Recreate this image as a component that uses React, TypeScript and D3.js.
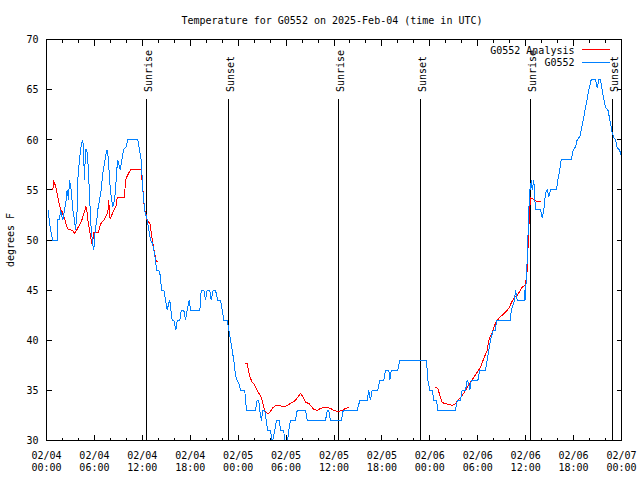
import React from "react";
import * as d3 from "d3";

// hours since 2025-02-04 00:00 UTC, temperature (F)
const observed: [number, number][] = [
  [0.2, 53], [0.5, 51], [0.79, 50], [1.34, 50], [1.41, 52], [1.63, 52], [1.75, 53], [2.04, 52],
  [2.25, 53], [2.47, 54], [2.59, 55], [2.75, 54], [2.88, 56], [3.09, 55], [3.29, 53], [3.51, 52],
  [3.63, 51], [3.84, 53], [3.92, 56], [4.13, 58], [4.35, 59.5], [4.55, 60], [4.67, 58], [4.76, 56],
  [4.88, 59], [5.05, 59], [5.17, 58], [5.3, 56], [5.47, 53], [5.6, 51], [5.8, 49.5], [5.92, 49],
  [6.1, 51], [6.3, 52], [6.42, 53], [6.64, 54], [6.85, 55], [7.05, 56.7], [7.26, 57.7], [7.48, 58.7],
  [7.6, 59], [7.76, 58], [7.89, 56], [8.1, 54.3], [8.3, 53.3], [8.51, 54], [8.64, 55], [8.8, 57],
  [8.93, 58], [9.23, 57], [9.43, 58], [9.64, 59], [9.98, 59.3], [10.18, 60], [11.43, 60], [11.65, 59],
  [11.86, 58], [12.06, 55], [12.18, 54], [12.27, 53], [12.61, 52], [12.81, 51], [13.02, 50], [13.24, 49.7],
  [13.44, 49], [13.65, 48], [13.77, 47], [14.06, 47], [14.27, 46.4], [14.4, 45], [14.69, 45], [14.9, 44],
  [15.11, 43], [15.31, 43.7], [15.44, 44], [15.61, 42.8], [15.74, 42], [15.94, 42], [16.19, 41], [16.37, 42],
  [16.69, 42], [16.87, 43], [17.19, 43], [17.41, 42], [17.62, 43], [17.87, 44], [18.03, 43], [18.24, 43],
  [19.2, 43], [19.37, 45], [19.7, 45], [19.91, 44], [20.12, 45], [20.45, 45], [20.62, 44], [20.87, 45],
  [21.16, 45], [21.45, 44], [21.79, 44], [22.0, 43], [22.2, 42], [22.63, 42], [22.83, 41], [23.04, 40],
  [23.25, 39], [23.45, 38], [23.67, 36.5], [23.88, 36], [24.08, 35.7], [24.29, 35], [24.83, 35], [24.92, 34],
  [25.05, 33], [26.17, 33], [26.38, 34], [26.58, 34], [26.71, 33], [26.92, 32], [27.08, 33], [27.34, 33],
  [27.51, 32], [27.71, 31], [28.05, 31], [28.26, 29.8], [28.46, 30.5], [28.59, 31], [28.8, 32], [29.17, 32],
  [29.3, 31], [29.71, 31], [29.84, 29.7], [30.14, 29.7], [30.34, 31], [30.55, 32], [31.18, 32], [31.39, 33],
  [32.43, 33], [32.65, 32], [34.94, 32], [35.15, 33], [35.35, 33], [35.56, 32], [36.94, 32], [37.15, 33],
  [38.91, 33], [39.23, 34], [40.16, 34], [40.36, 35], [40.57, 34], [40.78, 35], [41.48, 35], [41.73, 36],
  [42.24, 36], [42.45, 37], [42.87, 37], [42.99, 36], [43.16, 37], [43.99, 37], [44.24, 38], [47.58, 38],
  [47.75, 36], [48.0, 35], [48.3, 35], [48.5, 34], [48.84, 34], [49.0, 33], [51.21, 33], [51.43, 34],
  [51.84, 34], [52.05, 35], [52.47, 35], [52.68, 36], [52.88, 35.7], [53.0, 35], [53.18, 36], [54.01, 36],
  [54.26, 37], [54.97, 37], [55.18, 38], [55.38, 39], [55.6, 40], [55.93, 41], [56.22, 41], [56.35, 42],
  [58.1, 42], [58.19, 43], [58.6, 44], [58.73, 45], [58.94, 44], [59.85, 44], [59.92, 45], [59.98, 44],
  [60.07, 46.3], [60.2, 48], [60.35, 52], [60.5, 55], [60.61, 55], [60.7, 56], [60.82, 55], [61.02, 56],
  [61.15, 54], [61.23, 53], [61.86, 53], [62.07, 52.2], [62.27, 53], [62.48, 54.7], [62.7, 55], [62.9, 54.3],
  [63.11, 55], [63.86, 55], [64.02, 56], [64.27, 57], [64.45, 58], [65.7, 58], [65.95, 59], [66.24, 59.3],
  [66.45, 60], [66.78, 60.3], [66.95, 61], [67.28, 62.3], [67.62, 63.7], [67.91, 65], [68.21, 66], [68.75, 66],
  [68.96, 65.2], [69.16, 66], [69.37, 66], [69.58, 65], [69.79, 64], [70.0, 63.2], [70.29, 63], [70.54, 62],
  [70.84, 60.7], [71.04, 60.2], [71.25, 60], [71.46, 59.2], [71.75, 59], [72.0, 58.3],
];

const analysisDay1: [number, number][] = [
  [0.79, 55], [0.91, 55.8], [1.09, 55.5], [1.25, 55], [1.41, 54.3], [1.63, 53.5], [1.84, 52.7], [1.92, 53],
  [2.04, 52.5], [2.25, 52.2], [2.47, 51.5], [2.67, 51.1], [2.88, 51], [3.09, 51], [3.29, 50.9], [3.51, 50.7],
  [3.72, 50.9], [3.92, 51.2], [4.13, 51.5], [4.35, 51.8], [4.55, 52.3], [4.76, 52.8], [4.92, 53.3], [5.05, 53],
  [5.17, 52], [5.38, 51], [5.6, 50], [5.72, 49.5], [5.92, 50.7], [6.22, 50.7], [6.51, 50.7], [6.64, 51.3],
  [6.85, 51.7], [7.18, 52], [7.48, 52.4], [7.68, 52.8], [7.8, 54], [7.89, 52.3], [8.01, 52.2], [8.3, 52.7],
  [8.51, 53.1], [8.73, 53.4], [8.85, 54.2], [9.77, 54.2], [9.89, 56], [10.18, 56.5], [10.52, 57], [11.86, 57],
  [11.98, 55.8], [12.11, 54.7], [12.27, 53], [12.48, 52.5], [12.61, 51.9], [12.94, 51.7], [13.11, 50.8], [13.24, 50],
  [13.36, 49.5], [13.52, 48.8], [13.65, 48.2], [13.77, 47.9], [13.9, 47.9],
];

const analysisDay2: [number, number][] = [
  [24.83, 37.7], [25.13, 37.7], [25.33, 36.8], [25.54, 36.2], [25.76, 35.8], [25.96, 35.7], [26.17, 35.3], [26.38, 35],
  [26.58, 34.7], [26.8, 34.5], [27.01, 34], [27.21, 33.3], [27.42, 32.8], [27.71, 32.7], [27.96, 32.8], [28.26, 33.2],
  [28.68, 33.5], [29.09, 33.5], [29.51, 33.4], [29.93, 33.4], [30.34, 33.6], [30.77, 33.8], [31.18, 34], [31.52, 34.4],
  [31.81, 34.7], [32.09, 34.4], [32.43, 33.8], [32.85, 33.7], [33.18, 33.4], [33.47, 33.1], [33.9, 33], [34.31, 33.2],
  [34.72, 33.3], [35.15, 33.3], [35.56, 33.2], [35.98, 33], [36.4, 32.9], [36.6, 32.9], [37.03, 33], [37.44, 33.2],
  [37.85, 33.3],
];

const analysisDay3: [number, number][] = [
  [48.71, 35.3], [49.0, 35.2], [49.25, 34.5], [49.55, 33.8], [49.84, 33.7], [50.38, 33.6], [50.8, 33.5], [51.13, 33.6],
  [51.43, 33.9], [51.84, 34.3], [52.25, 34.7], [52.68, 35.3], [53.09, 35.8], [53.51, 36.3], [53.93, 36.8], [54.35, 37.3],
  [54.76, 38.2], [55.18, 39], [55.38, 40], [55.81, 40.8], [56.22, 41.7], [56.64, 42.2], [57.06, 42.5], [57.48, 42.8],
  [57.89, 43.2], [58.19, 43.7], [58.52, 44.2], [58.94, 44.5], [59.27, 44.9], [59.57, 45.3], [59.98, 45.5], [60.19, 47],
  [60.32, 49.8], [60.48, 52.7], [60.61, 54.2], [60.94, 54.1], [61.23, 53.9], [61.44, 53.8], [61.86, 53.8],
];

const sunEvents: [number, string][] = [
  [12.52, "Sunrise"], [22.79, "Sunset"], [36.56, "Sunrise"], [46.83, "Sunset"], [60.61, "Sunrise"], [70.87, "Sunset"],
];

const yTicks = [30, 35, 40, 45, 50, 55, 60, 65, 70];
const seriesNames = ["G0552 Analysis", "G0552"];
const seriesColors = ["#ff0000", "#0080ff"];
const titleText = "Temperature for G0552 on 2025-Feb-04 (time in UTC)";
const yLabel = "degrees F";

const BASE = Date.UTC(2025, 1, 4);
const toDate = (h: number) => new Date(BASE + h * 3600000);

const W = 640, H = 480;
const L = 46.5, R = 621.5, T = 39.5, B = 440.5;
const FONT = "'DejaVu Sans Mono', 'Liberation Mono', monospace";

export default function App() {
  const x = d3.scaleUtc().domain([toDate(0), toDate(72)]).range([L, R]);
  const y = d3.scaleLinear().domain([30, 70]).range([B, T]);
  const px = (v: number) => Math.floor(v) + 0.5;
  const line = d3
    .line<[number, number]>()
    .x((d) => x(toDate(d[0])))
    .y((d) => y(d[1]));

  const major = x.ticks(d3.utcHour.every(6)!);
  const minor = x.ticks(d3.utcHour.every(2)!).filter((d) => d.getUTCHours() % 6 !== 0);
  const fmtDate = d3.utcFormat("%m/%d");
  const fmtTime = d3.utcFormat("%H:%M");
  const analysis = [analysisDay1, analysisDay2, analysisDay3];

  return (
    <svg
      width={W}
      height={H}
      style={{ position: "absolute", left: 0, top: 0, background: "#fff" }}
      fontFamily={FONT}
      fontSize={10}
    >
      <rect x={0} y={0} width={W} height={H} fill="#fff" />
      <defs>
        <clipPath id="plot">
          <rect x={L} y={T} width={R - L} height={B - T} />
        </clipPath>
      </defs>

      {/* ticks */}
      <g stroke="#000" strokeWidth={1} shapeRendering="crispEdges">
        {major.map((d, i) => (
          <g key={"M" + i}>
            <line x1={px(x(d))} x2={px(x(d))} y1={B} y2={B - 6} />
            <line x1={px(x(d))} x2={px(x(d))} y1={T} y2={T + 6} />
          </g>
        ))}
        {minor.map((d, i) => (
          <g key={"m" + i}>
            <line x1={px(x(d))} x2={px(x(d))} y1={B} y2={B - 3} />
            <line x1={px(x(d))} x2={px(x(d))} y1={T} y2={T + 3} />
          </g>
        ))}
        {yTicks.map((v) => (
          <g key={"y" + v}>
            <line x1={L} x2={L + 5} y1={px(y(v))} y2={px(y(v))} />
            <line x1={R} x2={R - 5} y1={px(y(v))} y2={px(y(v))} />
          </g>
        ))}
      </g>

      {/* sunrise / sunset */}
      {sunEvents.map(([h, label], i) => {
        const xx = px(x(toDate(h)));
        return (
          <g key={"s" + i}>
            <line x1={xx} x2={xx} y1={99} y2={B} stroke="#000" shapeRendering="crispEdges" />
            <text transform={`translate(${xx + 5.5},92) rotate(-90)`} textAnchor="start" fill="#000">
              {label}
            </text>
          </g>
        );
      })}

      {/* data */}
      <g clipPath="url(#plot)" fill="none" strokeWidth={1} shapeRendering="crispEdges">
        {analysis.map((seg, i) => (
          <path key={"a" + i} d={line(seg) || ""} stroke={seriesColors[0]} />
        ))}
        <path d={line(observed) || ""} stroke={seriesColors[1]} />
      </g>

      {/* border */}
      <rect x={L} y={T} width={R - L} height={B - T} fill="none" stroke="#000" shapeRendering="crispEdges" />

      {/* y tick labels */}
      {yTicks.map((v) => (
        <text key={"yl" + v} x={38.5} y={y(v) + 3.8} textAnchor="end" fill="#000">
          {v}
        </text>
      ))}

      {/* x tick labels */}
      {major.map((d, i) => (
        <g key={"xl" + i}>
          <text x={x(d)} y={458.5} textAnchor="middle" fill="#000">
            {fmtDate(d)}
          </text>
          <text x={x(d)} y={471} textAnchor="middle" fill="#000">
            {fmtTime(d)}
          </text>
        </g>
      ))}

      {/* title */}
      <text x={332} y={23.5} textAnchor="middle" fill="#000">
        {titleText}
      </text>

      {/* y label */}
      <text transform="translate(13.5,240) rotate(-90)" textAnchor="middle" fill="#000">
        {yLabel}
      </text>

      {/* legend */}
      {seriesNames.map((name, i) => (
        <g key={"lg" + i}>
          <text x={574.5} y={53.5 + i * 12.5} textAnchor="end" fill="#000">
            {name}
          </text>
          <line
            x1={581.5}
            x2={609.5}
            y1={49.5 + i * 13}
            y2={49.5 + i * 13}
            stroke={seriesColors[i]}
            shapeRendering="crispEdges"
          />
        </g>
      ))}
    </svg>
  );
}
